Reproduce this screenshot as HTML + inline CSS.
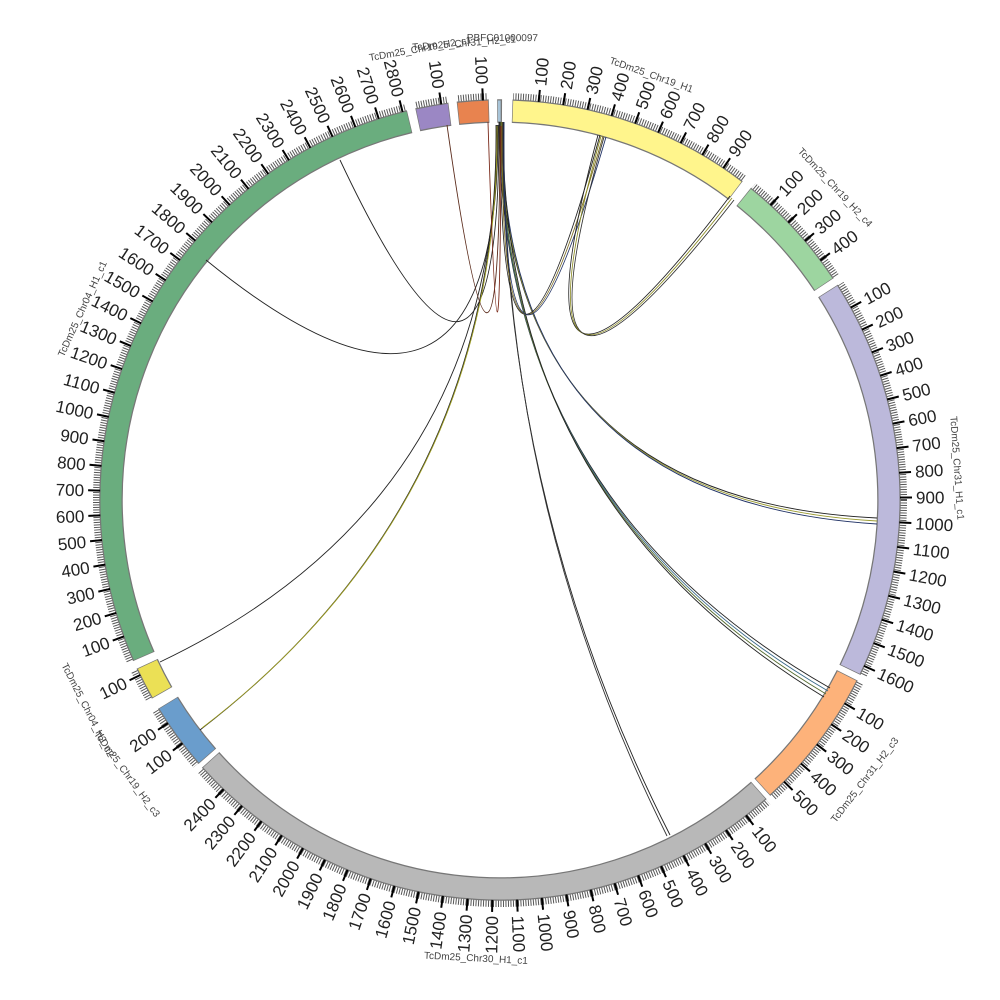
<!DOCTYPE html>
<html><head><meta charset="utf-8"><style>
html,body{margin:0;padding:0;background:#fff}
svg{display:block}
.l text{font-family:"Liberation Sans",sans-serif;font-size:17px;fill:#222}
.l line{stroke:#000;stroke-width:2}
.n{font-family:"Liberation Sans",sans-serif;font-size:10px;fill:#444}
</style></head><body>
<svg width="1000" height="1000" viewBox="0 0 1000 1000" xmlns="http://www.w3.org/2000/svg">
<defs>
<mask id="m" maskUnits="userSpaceOnUse" x="0" y="0" width="1000" height="1000">
<g fill="none" stroke="#fff" stroke-width="12">
<circle cx="500" cy="500" r="403.5" pathLength="360" stroke-dasharray="35.2 324.8" transform="rotate(-88 500 500)"/>
<circle cx="500" cy="500" r="403.5" pathLength="360" stroke-dasharray="17.3 342.7" transform="rotate(-51 500 500)"/>
<circle cx="500" cy="500" r="403.5" pathLength="360" stroke-dasharray="58.1 301.9" transform="rotate(-32.3 500 500)"/>
<circle cx="500" cy="500" r="403.5" pathLength="360" stroke-dasharray="20.5 339.5" transform="rotate(27 500 500)"/>
<circle cx="500" cy="500" r="403.5" pathLength="360" stroke-dasharray="89.5 270.5" transform="rotate(48.5 500 500)"/>
<circle cx="500" cy="500" r="403.5" pathLength="360" stroke-dasharray="9.5 350.5" transform="rotate(139 500 500)"/>
<circle cx="500" cy="500" r="403.5" pathLength="360" stroke-dasharray="4.5 355.5" transform="rotate(150.5 500 500)"/>
<circle cx="500" cy="500" r="403.5" pathLength="360" stroke-dasharray="100 260" transform="rotate(156.5 500 500)"/>
<circle cx="500" cy="500" r="403.5" pathLength="360" stroke-dasharray="4.5 355.5" transform="rotate(258 500 500)"/>
<circle cx="500" cy="500" r="403.5" pathLength="360" stroke-dasharray="4.3 355.7" transform="rotate(264 500 500)"/>
</g></mask>
</defs>

<circle cx="500" cy="500" r="403.5" fill="none" stroke="#555" stroke-width="7" pathLength="360" stroke-dasharray="0.14 0.215" mask="url(#m)"/>

<g fill="none" stroke="#777" stroke-width="23.5">
<circle cx="500" cy="500" r="389" pathLength="360" stroke-dasharray="35.4 324.6" transform="rotate(-88.1 500 500)"/>
<circle cx="500" cy="500" r="389" pathLength="360" stroke-dasharray="17.5 342.5" transform="rotate(-51.1 500 500)"/>
<circle cx="500" cy="500" r="389" pathLength="360" stroke-dasharray="58.3 301.7" transform="rotate(-32.4 500 500)"/>
<circle cx="500" cy="500" r="389" pathLength="360" stroke-dasharray="20.7 339.3" transform="rotate(26.9 500 500)"/>
<circle cx="500" cy="500" r="389" pathLength="360" stroke-dasharray="89.7 270.3" transform="rotate(48.4 500 500)"/>
<circle cx="500" cy="500" r="389" pathLength="360" stroke-dasharray="9.7 350.3" transform="rotate(138.9 500 500)"/>
<circle cx="500" cy="500" r="389" pathLength="360" stroke-dasharray="4.7 355.3" transform="rotate(150.4 500 500)"/>
<circle cx="500" cy="500" r="389" pathLength="360" stroke-dasharray="100.2 259.8" transform="rotate(156.4 500 500)"/>
<circle cx="500" cy="500" r="389" pathLength="360" stroke-dasharray="4.7 355.3" transform="rotate(257.9 500 500)"/>
<circle cx="500" cy="500" r="389" pathLength="360" stroke-dasharray="4.5 355.5" transform="rotate(263.9 500 500)"/>
<circle cx="500" cy="500" r="389" pathLength="360" stroke-dasharray="0.6 359.4" transform="rotate(269.7 500 500)"/>
</g>
<g fill="none" stroke-width="21">
<circle cx="500" cy="500" r="389" stroke="#fff58c" pathLength="360" stroke-dasharray="35.2 324.8" transform="rotate(-88 500 500)"/>
<circle cx="500" cy="500" r="389" stroke="#9dd5a0" pathLength="360" stroke-dasharray="17.3 342.7" transform="rotate(-51 500 500)"/>
<circle cx="500" cy="500" r="389" stroke="#bcb9db" pathLength="360" stroke-dasharray="58.1 301.9" transform="rotate(-32.3 500 500)"/>
<circle cx="500" cy="500" r="389" stroke="#fdb27a" pathLength="360" stroke-dasharray="20.5 339.5" transform="rotate(27 500 500)"/>
<circle cx="500" cy="500" r="389" stroke="#b8b8b8" pathLength="360" stroke-dasharray="89.5 270.5" transform="rotate(48.5 500 500)"/>
<circle cx="500" cy="500" r="389" stroke="#6a9dcc" pathLength="360" stroke-dasharray="9.5 350.5" transform="rotate(139 500 500)"/>
<circle cx="500" cy="500" r="389" stroke="#ebe055" pathLength="360" stroke-dasharray="4.5 355.5" transform="rotate(150.5 500 500)"/>
<circle cx="500" cy="500" r="389" stroke="#6aad7e" pathLength="360" stroke-dasharray="100 260" transform="rotate(156.5 500 500)"/>
<circle cx="500" cy="500" r="389" stroke="#9b87c4" pathLength="360" stroke-dasharray="4.5 355.5" transform="rotate(258 500 500)"/>
<circle cx="500" cy="500" r="389" stroke="#e8834f" pathLength="360" stroke-dasharray="4.3 355.7" transform="rotate(264 500 500)"/>
<circle cx="500" cy="500" r="389" stroke="#a8c4d8" pathLength="360" stroke-dasharray="0.3 359.7" transform="rotate(269.8 500 500)"/>
</g>

<g fill="none" stroke-width="0.9">
<path d="M500,122 Q500,500 877,518" stroke="#222"/>
<path d="M501,122 Q500,500 877,521" stroke="#9a9a30"/>
<path d="M502,122 Q500,500 877,524" stroke="#223366"/>
<path d="M499,122 Q500,500 830,688" stroke="#222"/>
<path d="M500,122 Q500,500 828,691" stroke="#3a6a8a"/>
<path d="M501,122 Q500,500 826,694" stroke="#556b2f"/>
<path d="M503,122 Q500,500 824,697" stroke="#222"/>
<path d="M503,122 Q500,500 670,835" stroke="#222"/>
<path d="M504,122 Q500,500 667,836" stroke="#333"/>
<path d="M500,122 Q500,500 600,135" stroke="#222"/>
<path d="M502,122 Q500,500 603,136" stroke="#7a6a20"/>
<path d="M504,122 Q500,500 606,137" stroke="#223366"/>
<path d="M598,135 Q500,500 730,196" stroke="#222"/>
<path d="M601,136 Q500,500 732,198" stroke="#8a8a20"/>
<path d="M604,137 Q500,500 734,200" stroke="#333"/>
<path d="M340,160 Q500,500 499,125" stroke="#222"/>
<path d="M206,260 Q500,500 498,125" stroke="#222"/>
<path d="M160,662 Q500,500 497,125" stroke="#222"/>
<path d="M200,730 Q500,500 496,125" stroke="#222"/>
<path d="M202,728 Q500,500 497,126" stroke="#9a9a20"/>
<path d="M447,125 Q500,500 500,126" stroke="#5a2a1a"/>
<path d="M488,122 Q500,500 501,126" stroke="#7a2a1a"/>
</g>

<g class="l" text-anchor="start">
<g transform="rotate(-84.45 500 500)"><line x1="900" y1="500" x2="912" y2="500"/><text x="916" y="506">100</text></g>
<g transform="rotate(-80.9 500 500)"><line x1="900" y1="500" x2="912" y2="500"/><text x="916" y="506">200</text></g>
<g transform="rotate(-77.35 500 500)"><line x1="900" y1="500" x2="912" y2="500"/><text x="916" y="506">300</text></g>
<g transform="rotate(-73.8 500 500)"><line x1="900" y1="500" x2="912" y2="500"/><text x="916" y="506">400</text></g>
<g transform="rotate(-70.25 500 500)"><line x1="900" y1="500" x2="912" y2="500"/><text x="916" y="506">500</text></g>
<g transform="rotate(-66.7 500 500)"><line x1="900" y1="500" x2="912" y2="500"/><text x="916" y="506">600</text></g>
<g transform="rotate(-63.15 500 500)"><line x1="900" y1="500" x2="912" y2="500"/><text x="916" y="506">700</text></g>
<g transform="rotate(-59.6 500 500)"><line x1="900" y1="500" x2="912" y2="500"/><text x="916" y="506">800</text></g>
<g transform="rotate(-56.05 500 500)"><line x1="900" y1="500" x2="912" y2="500"/><text x="916" y="506">900</text></g>

<g transform="rotate(-47.45 500 500)"><line x1="900" y1="500" x2="912" y2="500"/><text x="916" y="506">100</text></g>
<g transform="rotate(-43.9 500 500)"><line x1="900" y1="500" x2="912" y2="500"/><text x="916" y="506">200</text></g>
<g transform="rotate(-40.35 500 500)"><line x1="900" y1="500" x2="912" y2="500"/><text x="916" y="506">300</text></g>
<g transform="rotate(-36.8 500 500)"><line x1="900" y1="500" x2="912" y2="500"/><text x="916" y="506">400</text></g>

<g transform="rotate(-28.75 500 500)"><line x1="900" y1="500" x2="912" y2="500"/><text x="916" y="506">100</text></g>
<g transform="rotate(-25.2 500 500)"><line x1="900" y1="500" x2="912" y2="500"/><text x="916" y="506">200</text></g>
<g transform="rotate(-21.65 500 500)"><line x1="900" y1="500" x2="912" y2="500"/><text x="916" y="506">300</text></g>
<g transform="rotate(-18.1 500 500)"><line x1="900" y1="500" x2="912" y2="500"/><text x="916" y="506">400</text></g>
<g transform="rotate(-14.55 500 500)"><line x1="900" y1="500" x2="912" y2="500"/><text x="916" y="506">500</text></g>
<g transform="rotate(-11 500 500)"><line x1="900" y1="500" x2="912" y2="500"/><text x="916" y="506">600</text></g>
<g transform="rotate(-7.45 500 500)"><line x1="900" y1="500" x2="912" y2="500"/><text x="916" y="506">700</text></g>
<g transform="rotate(-3.9 500 500)"><line x1="900" y1="500" x2="912" y2="500"/><text x="916" y="506">800</text></g>
<g transform="rotate(-0.35 500 500)"><line x1="900" y1="500" x2="912" y2="500"/><text x="916" y="506">900</text></g>
<g transform="rotate(3.2 500 500)"><line x1="900" y1="500" x2="912" y2="500"/><text x="916" y="506">1000</text></g>
<g transform="rotate(6.75 500 500)"><line x1="900" y1="500" x2="912" y2="500"/><text x="916" y="506">1100</text></g>
<g transform="rotate(10.3 500 500)"><line x1="900" y1="500" x2="912" y2="500"/><text x="916" y="506">1200</text></g>
<g transform="rotate(13.85 500 500)"><line x1="900" y1="500" x2="912" y2="500"/><text x="916" y="506">1300</text></g>
<g transform="rotate(17.4 500 500)"><line x1="900" y1="500" x2="912" y2="500"/><text x="916" y="506">1400</text></g>
<g transform="rotate(20.95 500 500)"><line x1="900" y1="500" x2="912" y2="500"/><text x="916" y="506">1500</text></g>
<g transform="rotate(24.5 500 500)"><line x1="900" y1="500" x2="912" y2="500"/><text x="916" y="506">1600</text></g>

<g transform="rotate(30.55 500 500)"><line x1="900" y1="500" x2="912" y2="500"/><text x="916" y="506">100</text></g>
<g transform="rotate(34.1 500 500)"><line x1="900" y1="500" x2="912" y2="500"/><text x="916" y="506">200</text></g>
<g transform="rotate(37.65 500 500)"><line x1="900" y1="500" x2="912" y2="500"/><text x="916" y="506">300</text></g>
<g transform="rotate(41.2 500 500)"><line x1="900" y1="500" x2="912" y2="500"/><text x="916" y="506">400</text></g>
<g transform="rotate(44.75 500 500)"><line x1="900" y1="500" x2="912" y2="500"/><text x="916" y="506">500</text></g>

<g transform="rotate(52.05 500 500)"><line x1="900" y1="500" x2="912" y2="500"/><text x="916" y="506">100</text></g>
<g transform="rotate(55.6 500 500)"><line x1="900" y1="500" x2="912" y2="500"/><text x="916" y="506">200</text></g>
<g transform="rotate(59.15 500 500)"><line x1="900" y1="500" x2="912" y2="500"/><text x="916" y="506">300</text></g>
<g transform="rotate(62.7 500 500)"><line x1="900" y1="500" x2="912" y2="500"/><text x="916" y="506">400</text></g>
<g transform="rotate(66.25 500 500)"><line x1="900" y1="500" x2="912" y2="500"/><text x="916" y="506">500</text></g>
<g transform="rotate(69.8 500 500)"><line x1="900" y1="500" x2="912" y2="500"/><text x="916" y="506">600</text></g>
<g transform="rotate(73.35 500 500)"><line x1="900" y1="500" x2="912" y2="500"/><text x="916" y="506">700</text></g>
<g transform="rotate(76.9 500 500)"><line x1="900" y1="500" x2="912" y2="500"/><text x="916" y="506">800</text></g>
<g transform="rotate(80.45 500 500)"><line x1="900" y1="500" x2="912" y2="500"/><text x="916" y="506">900</text></g>
<g transform="rotate(84 500 500)"><line x1="900" y1="500" x2="912" y2="500"/><text x="916" y="506">1000</text></g>
<g transform="rotate(87.55 500 500)"><line x1="900" y1="500" x2="912" y2="500"/><text x="916" y="506">1100</text></g>
</g>

<g class="l" text-anchor="end">
<g transform="rotate(271.1 500 500)"><line x1="100" y1="500" x2="88" y2="500"/><text x="84" y="506">1200</text></g>
<g transform="rotate(274.65 500 500)"><line x1="100" y1="500" x2="88" y2="500"/><text x="84" y="506">1300</text></g>
<g transform="rotate(278.2 500 500)"><line x1="100" y1="500" x2="88" y2="500"/><text x="84" y="506">1400</text></g>
<g transform="rotate(281.75 500 500)"><line x1="100" y1="500" x2="88" y2="500"/><text x="84" y="506">1500</text></g>
<g transform="rotate(285.3 500 500)"><line x1="100" y1="500" x2="88" y2="500"/><text x="84" y="506">1600</text></g>
<g transform="rotate(288.85 500 500)"><line x1="100" y1="500" x2="88" y2="500"/><text x="84" y="506">1700</text></g>
<g transform="rotate(292.4 500 500)"><line x1="100" y1="500" x2="88" y2="500"/><text x="84" y="506">1800</text></g>
<g transform="rotate(295.95 500 500)"><line x1="100" y1="500" x2="88" y2="500"/><text x="84" y="506">1900</text></g>
<g transform="rotate(299.5 500 500)"><line x1="100" y1="500" x2="88" y2="500"/><text x="84" y="506">2000</text></g>
<g transform="rotate(303.05 500 500)"><line x1="100" y1="500" x2="88" y2="500"/><text x="84" y="506">2100</text></g>
<g transform="rotate(306.6 500 500)"><line x1="100" y1="500" x2="88" y2="500"/><text x="84" y="506">2200</text></g>
<g transform="rotate(310.15 500 500)"><line x1="100" y1="500" x2="88" y2="500"/><text x="84" y="506">2300</text></g>
<g transform="rotate(313.7 500 500)"><line x1="100" y1="500" x2="88" y2="500"/><text x="84" y="506">2400</text></g>

<g transform="rotate(322.55 500 500)"><line x1="100" y1="500" x2="88" y2="500"/><text x="84" y="506">100</text></g>
<g transform="rotate(326.1 500 500)"><line x1="100" y1="500" x2="88" y2="500"/><text x="84" y="506">200</text></g>

<g transform="rotate(334.05 500 500)"><line x1="100" y1="500" x2="88" y2="500"/><text x="84" y="506">100</text></g>

<g transform="rotate(340.05 500 500)"><line x1="100" y1="500" x2="88" y2="500"/><text x="84" y="506">100</text></g>
<g transform="rotate(343.6 500 500)"><line x1="100" y1="500" x2="88" y2="500"/><text x="84" y="506">200</text></g>
<g transform="rotate(347.15 500 500)"><line x1="100" y1="500" x2="88" y2="500"/><text x="84" y="506">300</text></g>
<g transform="rotate(350.7 500 500)"><line x1="100" y1="500" x2="88" y2="500"/><text x="84" y="506">400</text></g>
<g transform="rotate(354.25 500 500)"><line x1="100" y1="500" x2="88" y2="500"/><text x="84" y="506">500</text></g>
<g transform="rotate(357.8 500 500)"><line x1="100" y1="500" x2="88" y2="500"/><text x="84" y="506">600</text></g>
<g transform="rotate(1.35 500 500)"><line x1="100" y1="500" x2="88" y2="500"/><text x="84" y="506">700</text></g>
<g transform="rotate(4.9 500 500)"><line x1="100" y1="500" x2="88" y2="500"/><text x="84" y="506">800</text></g>
<g transform="rotate(8.45 500 500)"><line x1="100" y1="500" x2="88" y2="500"/><text x="84" y="506">900</text></g>
<g transform="rotate(12 500 500)"><line x1="100" y1="500" x2="88" y2="500"/><text x="84" y="506">1000</text></g>
<g transform="rotate(15.55 500 500)"><line x1="100" y1="500" x2="88" y2="500"/><text x="84" y="506">1100</text></g>
<g transform="rotate(19.1 500 500)"><line x1="100" y1="500" x2="88" y2="500"/><text x="84" y="506">1200</text></g>
<g transform="rotate(22.65 500 500)"><line x1="100" y1="500" x2="88" y2="500"/><text x="84" y="506">1300</text></g>
<g transform="rotate(26.2 500 500)"><line x1="100" y1="500" x2="88" y2="500"/><text x="84" y="506">1400</text></g>
<g transform="rotate(29.75 500 500)"><line x1="100" y1="500" x2="88" y2="500"/><text x="84" y="506">1500</text></g>
<g transform="rotate(33.3 500 500)"><line x1="100" y1="500" x2="88" y2="500"/><text x="84" y="506">1600</text></g>
<g transform="rotate(36.85 500 500)"><line x1="100" y1="500" x2="88" y2="500"/><text x="84" y="506">1700</text></g>
<g transform="rotate(40.4 500 500)"><line x1="100" y1="500" x2="88" y2="500"/><text x="84" y="506">1800</text></g>
<g transform="rotate(43.95 500 500)"><line x1="100" y1="500" x2="88" y2="500"/><text x="84" y="506">1900</text></g>
<g transform="rotate(47.5 500 500)"><line x1="100" y1="500" x2="88" y2="500"/><text x="84" y="506">2000</text></g>
<g transform="rotate(51.05 500 500)"><line x1="100" y1="500" x2="88" y2="500"/><text x="84" y="506">2100</text></g>
<g transform="rotate(54.6 500 500)"><line x1="100" y1="500" x2="88" y2="500"/><text x="84" y="506">2200</text></g>
<g transform="rotate(58.15 500 500)"><line x1="100" y1="500" x2="88" y2="500"/><text x="84" y="506">2300</text></g>
<g transform="rotate(61.7 500 500)"><line x1="100" y1="500" x2="88" y2="500"/><text x="84" y="506">2400</text></g>
<g transform="rotate(65.25 500 500)"><line x1="100" y1="500" x2="88" y2="500"/><text x="84" y="506">2500</text></g>
<g transform="rotate(68.8 500 500)"><line x1="100" y1="500" x2="88" y2="500"/><text x="84" y="506">2600</text></g>
<g transform="rotate(72.35 500 500)"><line x1="100" y1="500" x2="88" y2="500"/><text x="84" y="506">2700</text></g>
<g transform="rotate(75.9 500 500)"><line x1="100" y1="500" x2="88" y2="500"/><text x="84" y="506">2800</text></g>

<g transform="rotate(81.55 500 500)"><line x1="100" y1="500" x2="88" y2="500"/><text x="84" y="506">100</text></g>
<g transform="rotate(87.55 500 500)"><line x1="100" y1="500" x2="88" y2="500"/><text x="84" y="506">100</text></g>
</g>

<g class="n" text-anchor="middle">
<text transform="rotate(19.6 500 500)" x="500" y="52">TcDm25_Chr19_H1</text>
<text transform="rotate(47 500 500)" x="500" y="45">TcDm25_Chr19_H2_c4</text>
<text transform="rotate(86 500 500)" x="500" y="45">TcDm25_Chr31_H1_c1</text>
<text transform="rotate(-52.5 500 500)" x="500" y="963">TcDm25_Chr31_H2_c3</text>
<text transform="rotate(3 500 500)" x="500" y="962">TcDm25_Chr30_H1_c1</text>
<text transform="rotate(53.7 500 500)" x="500" y="966">TcDm25_Chr19_H2_c3</text>
<text transform="rotate(63 500 500)" x="500" y="966">TcDm25_Chr04_H2_c2</text>
<text transform="rotate(-65.4 500 500)" x="500" y="44">TcDm25_Chr04_H1_c1</text>
<text transform="rotate(-10 500 500)" x="500" y="45">TcDm25_Chr19_H2_c1</text>
<text transform="rotate(-4.5 500 500)" x="500" y="45">TcDm25_Chr31_H2_c1</text>
<text transform="rotate(0.3 500 500)" x="500" y="41">PBFC01000097</text>
</g>
</svg>
</body></html>
